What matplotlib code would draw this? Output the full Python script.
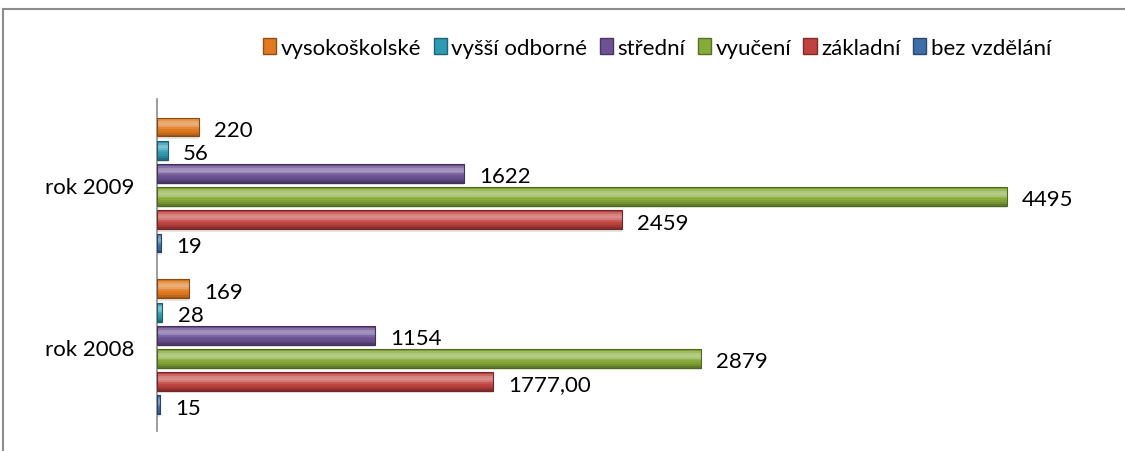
import numpy as np
import matplotlib
matplotlib.use("Agg")
from matplotlib import pyplot as plt
from matplotlib.lines import Line2D
from matplotlib.patches import Patch
from matplotlib.colors import to_rgb

years = ["rok 2009", "rok 2008"]
series = ["vysokoškolské", "vyšší odborné", "střední", "vyučení", "základní", "bez vzdělání"]
values_2009 = [220, 56, 1622, 4495, 2459, 19]
values_2008 = [169, 28, 1154, 2879, 1777, 15]
labels_2009 = ["220", "56", "1622", "4495", "2459", "19"]
labels_2008 = ["169", "28", "1154", "2879", "1777,00", "15"]
colors = ["#E0791F", "#2F9AB3", "#6D5396", "#86AB39", "#C0423F", "#3F6EA6"]

plt.rcParams["font.family"] = ["Lato", "DejaVu Sans"]

fig = plt.figure(figsize=(11.25, 4.52), dpi=100)
ax = fig.add_axes([157 / 1125, 1 - 432 / 452, 945 / 1125, 332 / 452])

step = 0.1432
height = 0.117
# bevel profile, top to bottom (positive = lighter, negative = darker)
bevel = [-0.05, 0.2, 0.35, 0.4, 0.3, 0.1, 0.0, -0.05, -0.15, -0.3]


def shade(c, f):
    r, g, b = to_rgb(c)
    if f > 0:
        return (r + (1 - r) * f, g + (1 - g) * f, b + (1 - b) * f)
    return (r * (1 + f), g * (1 + f), b * (1 + f))


nb = len(bevel)
band = height / nb
for gi, (vals, labs) in enumerate([(values_2009, labels_2009), (values_2008, labels_2008)]):
    for i, (v, lab, col) in enumerate(zip(vals, labs, colors)):
        y = gi + (i - 2.5) * step
        ax.barh(y + 0.014, v, height=height, color="#000000", alpha=0.10, zorder=1)
        for k, f in enumerate(bevel):
            yk = y - height / 2 + band * (k + 0.5)
            c = shade(col, f)
            ax.barh(yk, v, height=band, color=c, edgecolor=c, linewidth=0.6, zorder=2)
        ax.barh(y, v, height=height, fill=False, edgecolor=shade(col, -0.4), linewidth=0.8, zorder=3)
        ax.annotate(lab, (v, y), xytext=(11, -2), textcoords="offset points",
                    va="center", ha="left", fontsize=16, color="#000000")

ax.set_xlim(0, 5000)
ax.set_ylim(1.519, -0.531)
ax.set_yticks([0, 1])
ax.set_yticklabels(years, fontsize=16)
ax.tick_params(axis="y", length=0, pad=16)
ax.set_xticks([])
for s in ["top", "right", "bottom"]:
    ax.spines[s].set_visible(False)
ax.spines["left"].set_color("#8C8C8C")
ax.spines["left"].set_linewidth(1.2)

handles = [Patch(facecolor=c, edgecolor=shade(c, -0.35)) for c in colors]
fig.legend(handles, series, loc="center", bbox_to_anchor=(657 / 1125, 1 - 49 / 452),
           ncol=6, frameon=False, fontsize=16, handlelength=0.6, handleheight=0.75,
           handletextpad=0.2, columnspacing=0.55)

# chart border
fig.add_artist(Line2D([3 / 1125, 3 / 1125], [0, 1 - 10 / 452], color="#8C8C8C", lw=1.5))
fig.add_artist(Line2D([3 / 1125, 1], [1 - 10 / 452, 1 - 10 / 452], color="#8C8C8C", lw=1.5))

fig.savefig("out.png", dpi=100)
